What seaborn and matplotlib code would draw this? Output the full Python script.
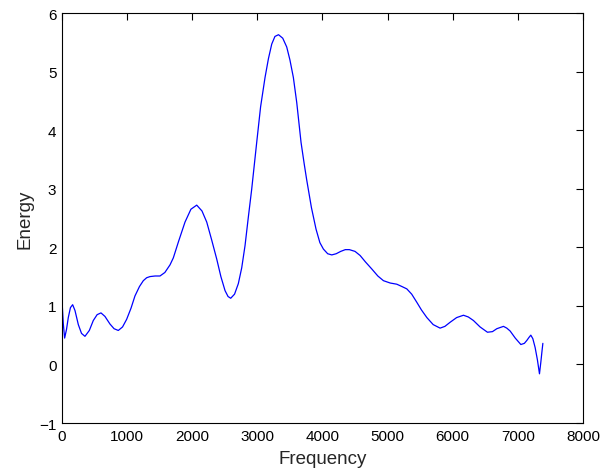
import pandas as pd
import matplotlib
matplotlib.use("Agg")
import matplotlib.pyplot as plt
import seaborn as sns

# values
freq = [0, 20, 41, 70, 97, 130, 164, 200, 251, 300, 353, 420, 481, 540, 599, 660,
        737, 800, 865, 930, 993, 1060, 1121, 1190, 1249, 1300, 1352, 1430, 1505,
        1580, 1659, 1710, 1790, 1889, 1980, 2069, 2150, 2223, 2300, 2376, 2440,
        2504, 2550, 2591, 2650, 2708, 2760, 2811, 2860, 2913, 2990, 3050, 3118,
        3170, 3221, 3270, 3325, 3390, 3451, 3500, 3553, 3605, 3671, 3720, 3758,
        3830, 3901, 3960, 4014, 4080, 4143, 4210, 4280, 4350, 4413, 4500, 4578,
        4660, 4757, 4850, 4936, 5040, 5141, 5220, 5295, 5370, 5449, 5520, 5603,
        5700, 5806, 5880, 5960, 6060, 6165, 6240, 6318, 6420, 6533, 6610, 6677,
        6779, 6830, 6882, 6960, 7046, 7100, 7138, 7170, 7199, 7230, 7265, 7300,
        7332, 7353, 7370, 7384]
energy = [1.10, 0.70, 0.45, 0.60, 0.80, 0.97, 1.02, 0.92, 0.68, 0.53, 0.48, 0.58,
          0.75, 0.85, 0.88, 0.82, 0.69, 0.61, 0.58, 0.64, 0.77, 0.96, 1.17, 1.33,
          1.43, 1.48, 1.50, 1.51, 1.51, 1.57, 1.70, 1.82, 2.10, 2.43, 2.65, 2.72,
          2.62, 2.43, 2.12, 1.80, 1.50, 1.26, 1.16, 1.13, 1.20, 1.38, 1.65, 2.03,
          2.50, 2.99, 3.79, 4.40, 4.90, 5.22, 5.47, 5.60, 5.63, 5.57, 5.42, 5.20,
          4.90, 4.47, 3.79, 3.42, 3.15, 2.68, 2.31, 2.08, 1.97, 1.89, 1.87, 1.89,
          1.93, 1.96, 1.96, 1.93, 1.86, 1.75, 1.63, 1.51, 1.43, 1.39, 1.37, 1.33,
          1.29, 1.20, 1.06, 0.93, 0.80, 0.68, 0.62, 0.65, 0.72, 0.80, 0.84, 0.81,
          0.75, 0.64, 0.55, 0.56, 0.61, 0.65, 0.62, 0.57, 0.45, 0.34, 0.36, 0.41,
          0.46, 0.50, 0.44, 0.29, 0.08, -0.16, 0.04, 0.22, 0.36]

x_ticks = [0, 1000, 2000, 3000, 4000, 5000, 6000, 7000, 8000]
y_ticks = [-1, 0, 1, 2, 3, 4, 5, 6]

df = pd.DataFrame({"Frequency": freq, "Energy": energy})

sns.set_style("white")
plt.rcParams["font.family"] = ["Liberation Sans", "DejaVu Sans"]

fig = plt.figure(figsize=(6.04, 4.77), dpi=100)
ax = fig.add_axes([0.1026, 0.1111, 0.8626, 0.8595])
sns.lineplot(data=df, x="Frequency", y="Energy", color="#0000ff", linewidth=0.9,
             sort=False, estimator=None, ax=ax)

ax.set_xlim(0, 8000)
ax.set_ylim(-1, 6)
ax.set_xticks(x_ticks)
ax.set_yticks(y_ticks)
ax.set_yticklabels(["\u22121" if t < 0 else str(t) for t in y_ticks])
ax.tick_params(direction="in", top=True, right=True, length=5, width=0.8,
               labelsize=11, colors="black", pad=4)
ax.set_xlabel("Frequency", fontsize=13.5, labelpad=5)
ax.set_ylabel("Energy", fontsize=13.5, labelpad=4)
for s in ax.spines.values():
    s.set_visible(True)
    s.set_color("black")
    s.set_linewidth(0.8)

fig.savefig("out.png", dpi=100, facecolor="white")
